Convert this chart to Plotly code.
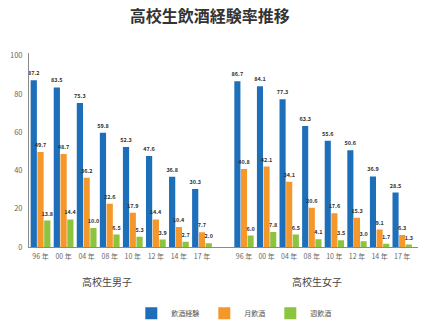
import plotly.graph_objects as go

years = ["96 年", "00 年", "04 年", "08 年", "10 年", "12 年", "14 年", "17 年"]
series_names = ["飲酒経験", "月飲酒", "週飲酒"]
colors = ["#1e6fb9", "#f4982c", "#8cc43f"]

boys_experience = [87.2, 83.5, 75.3, 59.8, 52.3, 47.6, 36.8, 30.3]
boys_monthly = [49.7, 48.7, 36.2, 22.6, 17.9, 14.4, 10.4, 7.7]
boys_weekly = [13.8, 14.4, 10.0, 6.5, 5.3, 3.9, 2.7, 2.0]

girls_experience = [86.7, 84.1, 77.3, 63.3, 55.6, 50.6, 36.9, 28.5]
girls_monthly = [40.8, 42.1, 34.1, 20.6, 17.6, 15.3, 9.1, 6.3]
girls_weekly = [6.0, 7.8, 6.5, 4.1, 3.5, 3.0, 1.7, 1.3]

y_ticks = [0, 20, 40, 60, 80, 100]

FONT = "Noto Sans CJK JP"

fig = go.Figure()

panels = [
    ("x", "y", [boys_experience, boys_monthly, boys_weekly], True),
    ("x2", "y2", [girls_experience, girls_monthly, girls_weekly], False),
]
for xa, ya, data, show_legend in panels:
    for name, color, vals in zip(series_names, colors, data):
        fig.add_trace(go.Bar(
            x=years, y=vals, name=name, xaxis=xa, yaxis=ya,
            marker=dict(color=color, line=dict(width=0)),
            text=[f"{v:.1f}" for v in vals],
            textposition="outside",
            textfont=dict(size=5.5, color="#333333", family=FONT, weight="bold"),
            constraintext="none", cliponaxis=False,
            showlegend=show_legend, legendgroup=name,
        ))

split = 0.4743
fig.update_layout(
    width=430, height=331,
    margin=dict(l=29, r=12, t=53, b=84, autoexpand=False),
    paper_bgcolor="white", plot_bgcolor="white",
    font=dict(family=FONT, color="#555555"),
    barmode="group", bargap=0.12, bargroupgap=0.08,
    title=dict(text="<b>高校生飲酒経験率推移</b>", x=0.488, xanchor="center",
               y=0.95, yanchor="middle",
               font=dict(size=16, color="#333333", family=FONT)),
    xaxis=dict(domain=[0, split], type="category", range=[-0.5, 7.5],
               showline=True, linecolor="#8a8a8a", linewidth=1,
               showgrid=False, ticks="", tickfont=dict(size=7, color="#666666"),
               ticklabelstandoff=3),
    xaxis2=dict(domain=[split, 1], type="category", range=[-1.35, 7.7],
                anchor="y2",
                showline=True, linecolor="#8a8a8a", linewidth=1,
                showgrid=False, ticks="", tickfont=dict(size=7, color="#666666"),
                ticklabelstandoff=3),
    yaxis=dict(range=[0, 101.5], tickvals=y_ticks, showline=True,
               linecolor="#8a8a8a", linewidth=1, showgrid=False, zeroline=False,
               ticks="", tickfont=dict(size=7.5, color="#666666"),
               ticklabelstandoff=4),
    yaxis2=dict(range=[0, 101.5], anchor="x2", showline=False, showgrid=False,
                zeroline=False, showticklabels=False),
    legend=dict(orientation="h", x=0.263, xanchor="left",
                yref="container", y=0.054, yanchor="middle",
                font=dict(size=7, color="#555555"),
                traceorder="normal", itemclick=False),
    annotations=[
        dict(text="高校生男子", xref="paper", yref="paper", x=0.2, y=-0.18,
             xanchor="center", yanchor="middle", showarrow=False,
             font=dict(size=10, color="#444444", family=FONT)),
        dict(text="高校生女子", xref="paper", yref="paper", x=0.74, y=-0.18,
             xanchor="center", yanchor="middle", showarrow=False,
             font=dict(size=10, color="#444444", family=FONT)),
    ],
)

fig.write_html("out.html")
